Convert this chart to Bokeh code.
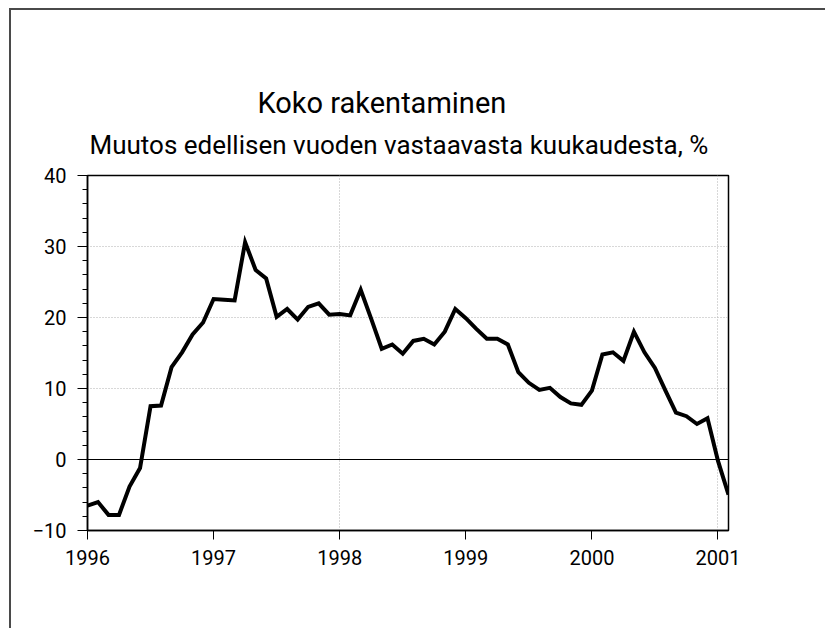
from bokeh.plotting import figure
from bokeh.models import SingleIntervalTicker, FixedTicker, Span, Title
from bokeh.embed import file_html
from bokeh.resources import INLINE

FONT = "Roboto"

title_text = "Koko rakentaminen"
subtitle_text = "Muutos edellisen vuoden vastaavasta kuukaudesta, %"

start_year = 1996
# Monthly values Jan 1996 - Feb 2001, % change from same month previous year
values = [
    -6.5, -6.0, -7.8, -7.8, -3.8, -1.2, 7.5, 7.6, 13.0, 15.1, 17.6, 19.3,   # 1996
    22.6, 22.5, 22.4, 30.6, 26.7, 25.5, 20.1, 21.2, 19.7, 21.5, 22.0, 20.4,  # 1997
    20.5, 20.3, 23.9, 19.8, 15.6, 16.2, 14.9, 16.7, 17.0, 16.2, 18.0, 21.2,  # 1998
    19.9, 18.4, 17.0, 17.0, 16.2, 12.3, 10.8, 9.8, 10.1, 8.8, 7.9, 7.7,      # 1999
    9.7, 14.8, 15.1, 13.9, 18.0, 15.1, 12.9, 9.7, 6.6, 6.1, 5.0, 5.8,        # 2000
    -0.2, -4.95,                                                             # 2001
]
x_ticks = [1996, 1997, 1998, 1999, 2000, 2001]
y_ticks = [-10, 0, 10, 20, 30, 40]
grid_years = [1998, 2001]

months = [start_year + i / 12 for i in range(len(values))]

p = figure(width=816, height=620,
           x_range=(1996, 2001 + 1 / 12), y_range=(-10, 40),
           output_backend="svg", toolbar_location=None,
           min_border_left=76, min_border_right=99,
           min_border_top=165, min_border_bottom=100)
p.styles = {"border-top": "2px solid #4a4a4a", "border-left": "2px solid #4a4a4a",
            "margin-left": "9px", "margin-top": "8px"}
p.background_fill_color = "white"
p.border_fill_color = "white"
p.outline_line_color = "black"
p.outline_line_width = 1.5

# axes
p.xaxis.ticker = FixedTicker(ticks=x_ticks)
p.yaxis.ticker = SingleIntervalTicker(interval=10, num_minor_ticks=5)
for ax in (p.xaxis[0], p.yaxis[0]):
    ax.axis_line_color = "black"
    ax.axis_line_width = 1.5
    ax.major_tick_line_color = "black"
    ax.major_tick_in = 0
    ax.major_label_text_font = FONT
    ax.major_label_text_font_size = "20px"
    ax.major_label_text_font_style = "normal"
    ax.major_label_text_color = "black"
p.xaxis.major_tick_out = 9
p.xaxis.minor_tick_line_color = None
p.xaxis.major_label_standoff = 10
p.yaxis.major_tick_out = 10
p.yaxis.minor_tick_out = 5
p.yaxis.minor_tick_in = 0
p.yaxis.minor_tick_line_color = "black"
p.yaxis.major_label_standoff = 11

# grid
p.ygrid.ticker = FixedTicker(ticks=[10, 20, 30])
p.ygrid.grid_line_color = "#b0b0b0"
p.ygrid.grid_line_dash = "1 2"
p.ygrid.grid_line_width = 1
p.xgrid.ticker = FixedTicker(ticks=grid_years)
p.xgrid.grid_line_color = "#b0b0b0"
p.xgrid.grid_line_dash = "1 2"
p.xgrid.grid_line_width = 1

p.add_layout(Span(location=0, dimension="width", line_color="black", line_width=1.2))

p.line(months, values, line_color="black", line_width=4, line_join="miter")

# subtitle first (closest to the frame), then the main title above it
p.add_layout(Title(text=subtitle_text, align="left", offset=2, standoff=32,
                   text_font=FONT, text_font_size="26px", text_font_style="normal",
                   text_color="black"), "above")
p.add_layout(Title(text=title_text, align="left", offset=170, standoff=-16,
                   text_font=FONT, text_font_size="29px", text_font_style="normal",
                   text_color="black"), "above")

open("out.html", "w").write(file_html(p, INLINE))
